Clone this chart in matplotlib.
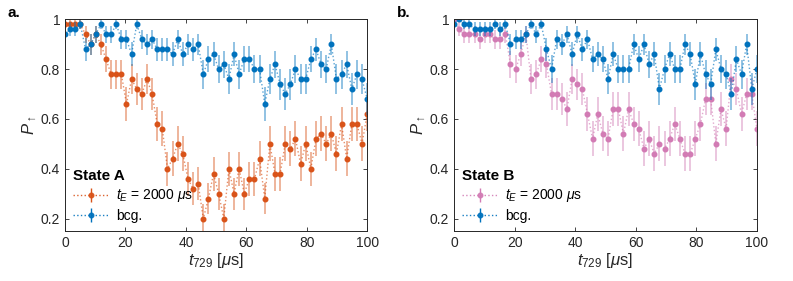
import numpy as np
import matplotlib
matplotlib.use("Agg")
import matplotlib.pyplot as plt

plt.rcParams["font.family"] = ["Liberation Sans", "DejaVu Sans"]
plt.rcParams["mathtext.fontset"] = "custom"
plt.rcParams["mathtext.rm"] = "Liberation Sans"
plt.rcParams["mathtext.it"] = "Liberation Sans:italic"
plt.rcParams["mathtext.bf"] = "Liberation Sans:bold"

# 60 delay settings between 0 and 100 us
t729 = np.linspace(0, 100, 60)
shots = 50  # binomial error from 50 shots per point

state_a = [0.98, 0.98, 0.98, 0.98, 0.94, 0.90, 0.94, 0.90, 0.84, 0.78,
           0.78, 0.78, 0.66, 0.76, 0.72, 0.70, 0.76, 0.70, 0.58, 0.56,
           0.40, 0.44, 0.50, 0.46, 0.36, 0.32, 0.34, 0.20, 0.28, 0.38,
           0.30, 0.20, 0.40, 0.30, 0.40, 0.30, 0.36, 0.36, 0.44, 0.28,
           0.50, 0.38, 0.38, 0.50, 0.48, 0.52, 0.42, 0.50, 0.40, 0.52,
           0.54, 0.50, 0.54, 0.46, 0.58, 0.44, 0.58, 0.58, 0.50, 0.62]
bcg_a = [0.94, 0.96, 0.96, 0.98, 0.88, 0.90, 0.94, 0.98, 0.94, 0.94,
         0.98, 0.92, 0.92, 0.86, 0.98, 0.92, 0.90, 0.92, 0.88, 0.88,
         0.88, 0.86, 0.92, 0.86, 0.90, 0.88, 0.90, 0.78, 0.84, 0.86,
         0.80, 0.82, 0.76, 0.86, 0.78, 0.84, 0.84, 0.80, 0.80, 0.66,
         0.76, 0.82, 0.74, 0.70, 0.74, 0.80, 0.76, 0.76, 0.84, 0.88,
         0.82, 0.80, 0.90, 0.76, 0.78, 0.82, 0.72, 0.78, 0.76, 0.68]
state_b = [1.00, 0.96, 0.94, 0.94, 0.94, 0.92, 0.94, 0.94, 0.92, 0.92,
           0.94, 0.82, 0.80, 0.86, 0.94, 0.76, 0.78, 0.84, 0.82, 0.70,
           0.70, 0.68, 0.64, 0.76, 0.74, 0.72, 0.62, 0.52, 0.62, 0.54,
           0.52, 0.64, 0.64, 0.54, 0.64, 0.58, 0.56, 0.48, 0.52, 0.46,
           0.50, 0.48, 0.52, 0.58, 0.52, 0.46, 0.46, 0.52, 0.58, 0.68,
           0.68, 0.50, 0.64, 0.56, 0.76, 0.72, 0.62, 0.70, 0.70, 0.56]
bcg_b = [0.98, 1.00, 0.98, 0.98, 0.96, 0.96, 0.96, 0.96, 0.98, 0.96,
         0.98, 0.90, 0.92, 0.92, 0.94, 0.98, 0.94, 0.98, 0.88, 0.80,
         0.92, 0.90, 0.94, 0.86, 0.94, 0.88, 0.92, 0.84, 0.86, 0.84,
         0.76, 0.86, 0.80, 0.80, 0.80, 0.90, 0.84, 0.90, 0.82, 0.86,
         0.72, 0.80, 0.86, 0.80, 0.80, 0.90, 0.86, 0.74, 0.86, 0.78,
         0.74, 0.88, 0.80, 0.78, 0.70, 0.84, 0.78, 0.90, 0.72, 0.80]

BLUE = "#0072BD"
ORANGE = "#D95319"
PINK = "#D27BB4"
AX_COL = "#262626"


def style_axes(ax):
    ax.set_xlim(0, 100)
    ax.set_ylim(0.15, 1.0)
    ax.set_xticks([0, 20, 40, 60, 80, 100])
    ax.set_yticks([0.2, 0.4, 0.6, 0.8, 1.0])
    ax.set_yticklabels(["0.2", "0.4", "0.6", "0.8", "1"])
    ax.tick_params(direction="in", top=True, right=True, length=3,
                   labelsize=10, colors=AX_COL, width=0.6)
    for s in ax.spines.values():
        s.set_color(AX_COL)
        s.set_linewidth(0.7)
    ax.set_xlabel(r"$t_{729}$ [$\mu$s]", fontsize=12, color=AX_COL, labelpad=1)
    ax.set_ylabel(r"$P_\uparrow$", fontsize=12, color=AX_COL, labelpad=1)


fig = plt.figure(figsize=(7.93, 2.81), dpi=100)
ax_a = fig.add_axes([0.082, 0.178, 0.381, 0.753])
ax_b = fig.add_axes([0.5725, 0.178, 0.382, 0.753])

panels = [(ax_a, state_a, bcg_a, ORANGE, "State A", "a."),
          (ax_b, state_b, bcg_b, PINK, "State B", "b.")]

for ax, sig, bcg, col, title, tag in panels:
    handles = []
    for y, c, lab in [(sig, col, r"$t_E$ = 2000 $\mu$s"), (bcg, BLUE, "bcg.")]:
        y = np.asarray(y)
        err = np.sqrt(y * (1 - y) / shots)
        ax.plot(t729, y, ls=":", lw=1.0, color=c, alpha=0.65)
        ax.errorbar(t729, y, yerr=err, fmt="none", ecolor=c,
                    elinewidth=1.1, alpha=0.55, capsize=0)
        ax.plot(t729, y, "o", ms=3.3, color=c, mec=c)
        # legend proxy: dotted line, marker and bar
        h = ax.errorbar([np.nan], [np.nan], yerr=[0.05], fmt="o", ls=":",
                        lw=1.0, ms=3.3, color=c, ecolor=c, elinewidth=1.0,
                        capsize=0, label=lab)
        h.lines[0].set_alpha(0.9)
        handles.append(h)
    style_axes(ax)
    leg = ax.legend(handles=handles, loc="lower left", frameon=False,
                    fontsize=10, title=title, handlelength=2.6,
                    borderaxespad=0.2, handletextpad=0.5, labelspacing=0.3)
    leg.get_title().set_fontweight("bold")
    leg.get_title().set_fontsize(11)
    leg._legend_box.align = "left"
    fig.text(ax.get_position().x0 - 0.072, 0.955, tag, fontsize=11,
             fontweight="bold", ha="left", va="center")

fig.savefig("out.png", dpi=100)
